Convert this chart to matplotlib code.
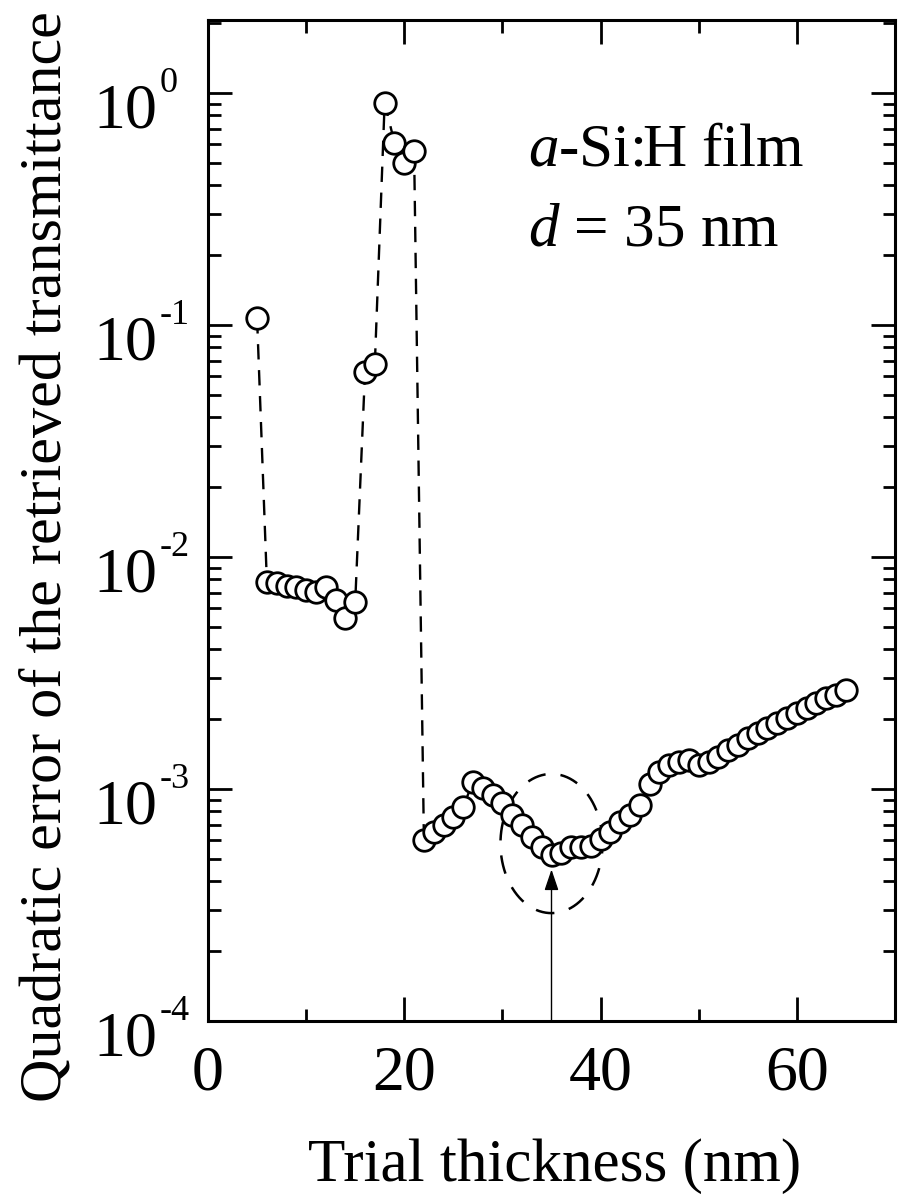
import numpy as np
import matplotlib
matplotlib.use('Agg')
import matplotlib.pyplot as plt
from matplotlib import transforms as mtransforms
from matplotlib.ticker import LogLocator, NullFormatter, MultipleLocator, FixedLocator

# ---- data ----
thickness = list(range(5, 66))
error = [0.107, 0.0078, 0.0077, 0.0075, 0.0074, 0.0072, 0.0071, 0.0074, 0.0065, 0.00546, 0.0064,
         0.063, 0.068, 0.91, 0.61, 0.50, 0.56,
         6.0e-4, 6.5e-4, 7.0e-4, 7.6e-4, 8.4e-4, 1.07e-3, 1.01e-3, 9.4e-4, 8.7e-4, 7.7e-4,
         7.0e-4, 6.2e-4, 5.6e-4, 5.2e-4, 5.3e-4, 5.6e-4, 5.6e-4, 5.7e-4, 6.1e-4, 6.5e-4,
         7.2e-4, 7.7e-4, 8.5e-4,
         1.05e-3, 1.18e-3, 1.27e-3, 1.31e-3, 1.33e-3, 1.27e-3, 1.31e-3, 1.37e-3, 1.47e-3,
         1.55e-3, 1.66e-3, 1.74e-3, 1.83e-3, 1.92e-3, 2.02e-3, 2.13e-3, 2.23e-3, 2.35e-3,
         2.47e-3, 2.54e-3, 2.67e-3]
x_ticks = [0, 20, 40, 60]
x_tick_labels = ['0', '20', '40', '60']
y_ticks = [1e-4, 1e-3, 1e-2, 1e-1, 1e0]
y_tick_exponents = ['-4', '-3', '-2', '-1', '0']
best_thickness = 35
arrow_top = 4.5e-4
ellipse_center_log = -3.235
ellipse_half_width = 5.2
ellipse_half_height_log = 0.30
film_label = r'$\mathit{a}$-Si:H film'
thick_label = r'$\mathit{d}$ = 35 nm'
xlabel = 'Trial thickness (nm)'
ylabel = 'Quadratic error of the retrieved transmittance'

plt.rcParams['font.family'] = ['Liberation Serif', 'DejaVu Serif']
plt.rcParams['mathtext.fontset'] = 'custom'
plt.rcParams['mathtext.rm'] = 'Liberation Serif'
plt.rcParams['mathtext.it'] = 'Liberation Serif:italic'

DPI = 100
fig = plt.figure(figsize=(9.0, 11.95), dpi=DPI)
W, H = 900, 1195
ax_l, ax_r, ax_t, ax_b = 208, 895, 20, 1021
ax = fig.add_axes([ax_l / W, 1 - ax_b / H, (ax_r - ax_l) / W, (ax_b - ax_t) / H])

ax.set_xlim(0, 70)
ax.set_ylim(1e-4, 10 ** 0.3147)
ax.set_yscale('log')

# dashed connecting line + open circles
ax.plot(thickness, error, color='black', lw=1.7, dashes=(6.5, 4.5), zorder=2)
ax.plot(thickness, error, ls='none', marker='o', ms=15.5, mew=2.0,
        mfc='white', mec='black', zorder=3)

# dashed ellipse around the minimum
t = np.linspace(0, 2 * np.pi, 400)
ex = best_thickness + ellipse_half_width * np.cos(t)
ey = 10 ** (ellipse_center_log + ellipse_half_height_log * np.sin(t))
ax.plot(ex, ey, color='black', lw=1.8, dashes=(7.5, 6), zorder=1)

# arrow
ax.annotate('', xy=(best_thickness, arrow_top), xytext=(best_thickness, 1e-4),
            arrowprops=dict(arrowstyle='-|>,head_length=0.8,head_width=0.27',
                            lw=1.0, color='black', mutation_scale=16,
                            shrinkA=0, shrinkB=0), zorder=4)

# ticks
for sp in ax.spines.values():
    sp.set_linewidth(2.2)
ax.xaxis.set_major_locator(FixedLocator(x_ticks))
ax.xaxis.set_minor_locator(MultipleLocator(10))
ax.set_xticklabels(x_tick_labels)
ax.yaxis.set_major_locator(FixedLocator(y_ticks))
ax.yaxis.set_minor_locator(LogLocator(base=10, subs=np.arange(2, 10), numticks=20))
ax.yaxis.set_minor_formatter(NullFormatter())
ax.set_yticklabels([''] * len(y_ticks))
ax.tick_params(which='both', direction='in', top=True, right=True, width=2.0)
ax.tick_params(which='major', length=17)
ax.tick_params(which='minor', length=9)
ax.tick_params(axis='x', which='major', labelsize=46, pad=18)

# y tick labels: "10" with a small exponent
px = 1.0 / DPI
blend = mtransforms.blended_transform_factory(ax.transAxes, ax.transData)
for val, ex_txt in zip(y_ticks, y_tick_exponents):
    tr10 = blend + mtransforms.ScaledTranslation(-51 * px, -34 * px, fig.dpi_scale_trans)
    ax.text(0, val, '10', transform=tr10, ha='right', va='baseline', fontsize=46,
            clip_on=False)
    trex = blend + mtransforms.ScaledTranslation(-48 * px, 1 * px, fig.dpi_scale_trans)
    ax.text(0, val, ex_txt, transform=trex, ha='left', va='baseline', fontsize=26,
            clip_on=False)

# annotation texts
ax.text(528 / W, 1 - 166 / H, film_label, transform=fig.transFigure, fontsize=44,
        ha='left', va='baseline')
ax.text(528 / W, 1 - 245 / H, thick_label, transform=fig.transFigure, fontsize=44,
        ha='left', va='baseline')

ax.set_xlabel(xlabel, fontsize=44)
ax.xaxis.set_label_coords(0.505, -0.117)
ax.set_ylabel(ylabel, fontsize=43.3)
ax.yaxis.set_label_coords(-0.1965, 0.464)

fig.savefig('out.png', dpi=DPI)
